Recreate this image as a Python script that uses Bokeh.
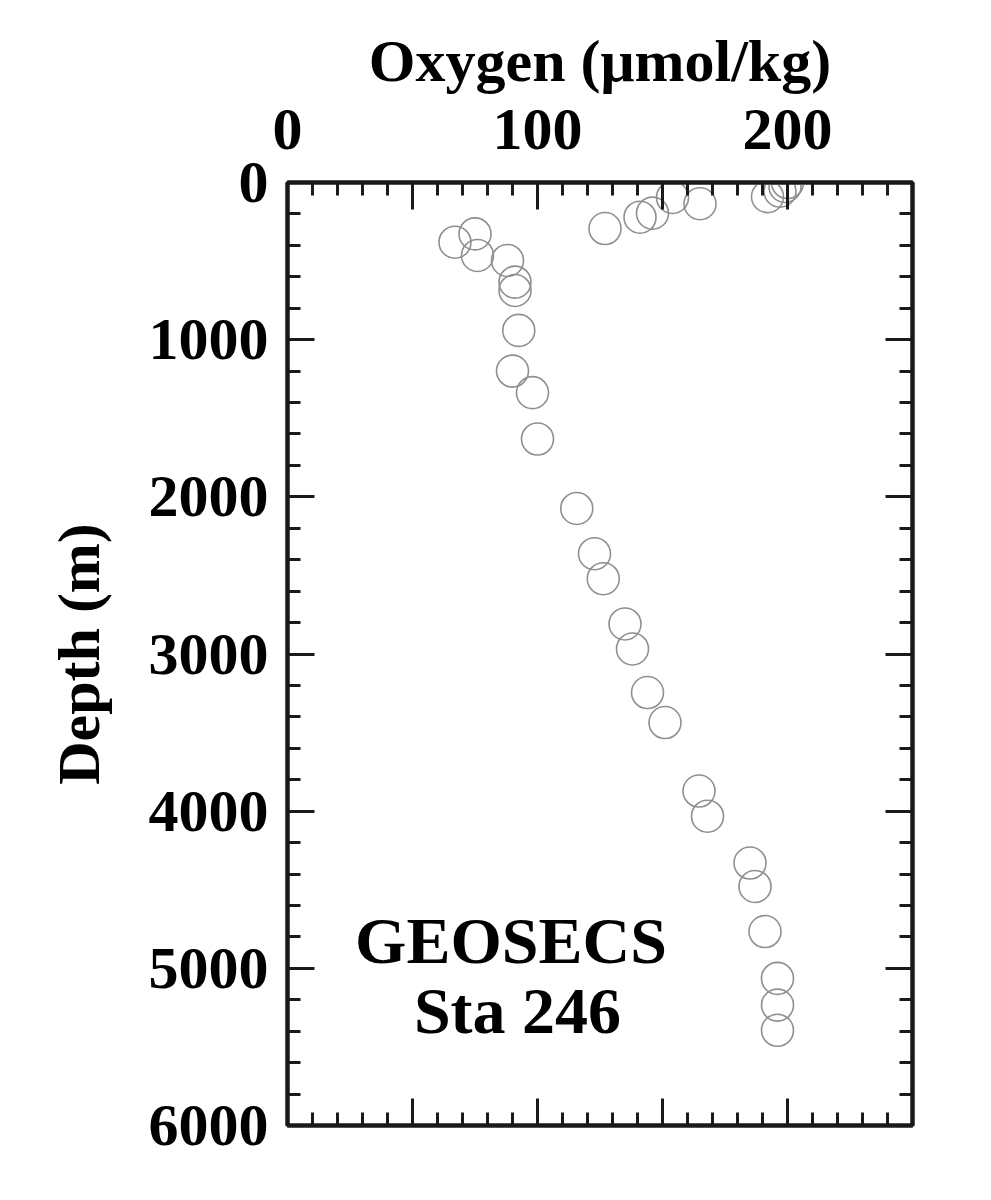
from bokeh.plotting import figure
from bokeh.models import Range1d, LinearAxis, FixedTicker, CustomJSTickFormatter, Label
from bokeh.embed import file_html
from bokeh.resources import INLINE

# Data: GEOSECS Station 246 oxygen profile
oxygen = [200, 199, 197, 192, 165, 154, 146, 141, 127, 67, 75, 76, 88, 91, 91,
          92.5, 90, 98, 100, 115.7, 122.8, 126.3, 135, 138, 144, 151, 164.6, 168,
          185, 187, 191, 196, 196, 196]
depth = [0, 25, 55, 90, 135, 95, 195, 221, 293, 380, 327, 464, 496, 634, 687,
         941, 1200, 1337, 1632, 2074, 2362, 2521, 2809, 2968, 3245, 3436, 3872, 4032,
         4330, 4479, 4766, 5064, 5234, 5394]

x_major = [0, 50, 100, 150, 200, 250]
x_minor = list(range(0, 251, 10))
y_major = [0, 1000, 2000, 3000, 4000, 5000, 6000]
y_minor = list(range(0, 6001, 200))

label_lines = ["GEOSECS", "Sta 246"]
label_x = [89.4, 92.0]
label_y = [4826, 5271]

FONT = "Liberation Serif"
INK = "#1a1a1a"

p = figure(width=975, height=1185, output_backend="svg", toolbar_location=None,
           x_range=Range1d(0, 250), y_range=Range1d(6000, 0),
           x_axis_location="above", min_border_left=287, min_border_right=63,
           min_border_top=182, min_border_bottom=60)
p.grid.visible = False
p.outline_line_color = INK
p.outline_line_width = 4
p.background_fill_color = "white"
p.border_fill_color = "white"

p.scatter(oxygen, depth, marker="circle", size=32, fill_color=None,
          line_color="#8f8f8f", line_width=1.6)

xt = FixedTicker(ticks=x_major, minor_ticks=x_minor)
yt = FixedTicker(ticks=y_major, minor_ticks=y_minor)
xfmt = CustomJSTickFormatter(code="return (tick % 100 == 0) ? tick.toFixed(0) : '';")
blank = CustomJSTickFormatter(code="return '';")

def style(ax, ticker, fmt):
    ax.ticker = ticker
    ax.formatter = fmt
    ax.axis_line_color = INK
    ax.axis_line_width = 4
    ax.major_tick_line_color = INK
    ax.major_tick_line_width = 3
    ax.minor_tick_line_color = INK
    ax.minor_tick_line_width = 3
    ax.major_tick_in = 27
    ax.major_tick_out = 0
    ax.minor_tick_in = 13
    ax.minor_tick_out = 0
    ax.major_label_text_font = FONT
    ax.major_label_text_font_style = "bold"
    ax.major_label_text_font_size = "60px"
    ax.major_label_text_color = "black"
    ax.axis_label_text_font = FONT
    ax.axis_label_text_font_style = "bold"
    ax.axis_label_text_font_size = "60px"
    ax.axis_label_text_color = "black"

top = p.xaxis[0]
style(top, xt, xfmt)
top.axis_label = "Oxygen (μmol/kg)"
top.major_label_standoff = 34
top.axis_label_standoff = 13

left = p.yaxis[0]
style(left, yt, CustomJSTickFormatter(code="return tick.toFixed(0);"))
left.axis_label = "Depth (m)"
left.major_label_standoff = 19
left.axis_label_standoff = 34

bottom = LinearAxis()
style(bottom, xt, blank)
bottom.major_label_text_font_size = "0px"
p.add_layout(bottom, "below")

right = LinearAxis()
style(right, yt, blank)
right.major_label_text_font_size = "0px"
p.add_layout(right, "right")

for t, xx, yy in zip(label_lines, label_x, label_y):
    p.add_layout(Label(x=xx, y=yy, text=t, text_align="center", text_baseline="alphabetic",
                       text_font=FONT, text_font_style="bold", text_font_size="66px",
                       text_color="black"))

open("out.html", "w").write(file_html(p, INLINE))
